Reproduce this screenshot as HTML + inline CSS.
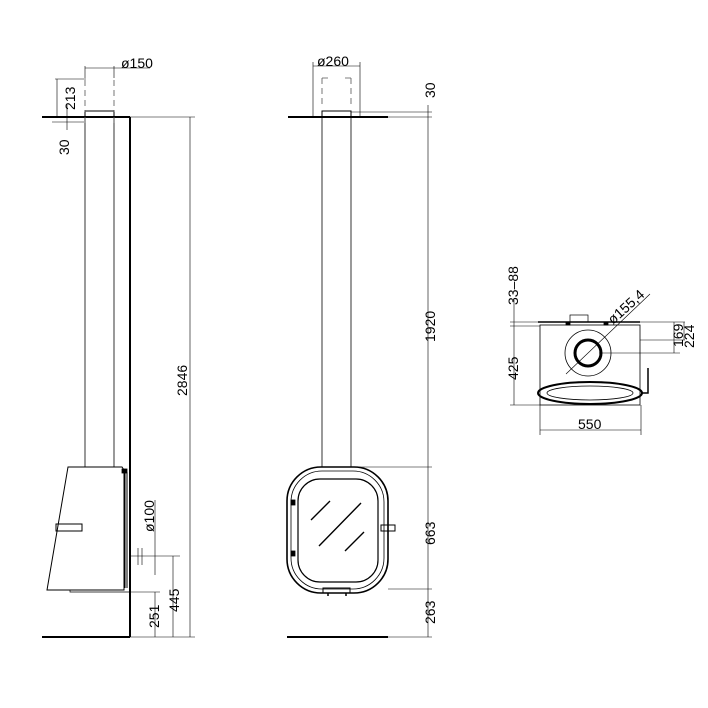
<!DOCTYPE html>
<html><head><meta charset="utf-8"><style>
html,body{margin:0;padding:0;background:#fff;}
svg{display:block;}
text{font-family:"Liberation Sans",sans-serif;font-size:14px;fill:#000;}
</style></head><body>
<svg width="708" height="708" viewBox="0 0 708 708" xmlns="http://www.w3.org/2000/svg">
<g fill="none" stroke="#000" stroke-width="0.8">
<line x1="42" y1="117" x2="130" y2="117" stroke-width="2"/>
<line x1="130" y1="117" x2="195" y2="117" stroke-width="0.6"/>
<rect x="85" y="111" width="29" height="6" stroke-width="1"/>
<line x1="85" y1="117" x2="85" y2="467"/>
<line x1="114" y1="117" x2="114" y2="467"/>
<line x1="130" y1="117" x2="130" y2="637" stroke-width="2"/>
<path d="M85 80 V112 M114 80 V112 M85 117 V125 M114 117 V125" stroke-dasharray="6,4" stroke="#555"/>
<path d="M85 66 V78 M114 66 V78 M85 68 H150" stroke-width="0.6"/>
<path d="M55 79 H86 M57 79 V117 M67 105 V130 M52 122 H84 M190 117 V637" stroke-width="0.6"/>
<path d="M68 467 H122 L124 470 V590 H47 Z" stroke-width="1"/>
<path d="M125 472 V588 M127 472 V588" stroke-width="1"/>
<rect x="122" y="469" width="5" height="4" fill="#000"/>
<rect x="56" y="524" width="26" height="7" stroke-width="1"/>
<path d="M70 590 V592 H130" stroke-width="0.7"/>
<line x1="42" y1="637" x2="130" y2="637" stroke-width="2"/>
<line x1="130" y1="637" x2="195" y2="637" stroke-width="0.6"/>
<path d="M138 548 V565 M142 548 V565 M130 556 H180 M155 500 V575 M173 556 V637 M155 592 V637 M130 592 H160" stroke-width="0.6"/>
<line x1="288" y1="117" x2="388" y2="117" stroke-width="2"/>
<line x1="388" y1="117" x2="432" y2="117" stroke-width="0.6"/>
<line x1="351" y1="112" x2="432" y2="112" stroke-width="0.6"/>
<rect x="322" y="111" width="29" height="6" stroke-width="1"/>
<line x1="322" y1="117" x2="322" y2="467"/>
<line x1="351" y1="117" x2="351" y2="467"/>
<path d="M322 78 V108 M351 78 V108 M322 78 H330 M351 78 H343" stroke-dasharray="6,4" stroke="#555"/>
<path d="M313 62 V117 M360 62 V117 M313 66 H360" stroke-width="0.6"/>
<path d="M428 105 V637 M351 467 H432 M388 589 H432" stroke-width="0.6"/>
<rect x="287" y="467" width="101" height="126" rx="34" ry="34" stroke-width="1.6"/>
<rect x="291" y="471" width="93" height="118" rx="31" ry="31" stroke-width="0.8"/>
<rect x="298" y="479" width="80" height="103" rx="22" ry="22" stroke-width="1.2"/>
<path d="M311 520 L330 501 M319 546 L361 503 M345 551 L364 532" stroke-width="1.4"/>
<rect x="381" y="525" width="14" height="6" stroke-width="1"/>
<rect x="291" y="500" width="4" height="5" fill="#000"/>
<rect x="291" y="551" width="4" height="5" fill="#000"/>
<rect x="323" y="588" width="27" height="5" stroke-width="1"/>
<path d="M328 593 V596 M346 593 V596" stroke-width="1.5"/>
<line x1="287" y1="637" x2="388" y2="637" stroke-width="2"/>
<line x1="388" y1="637" x2="432" y2="637" stroke-width="0.6"/>
<rect x="540" y="325" width="100" height="80" stroke-width="0.8"/>
<line x1="538" y1="322" x2="640" y2="322" stroke-width="1.5"/>
<rect x="570" y="315" width="18" height="7" stroke-width="0.7"/>
<rect x="566" y="322" width="4" height="3" fill="#000"/>
<rect x="604" y="322" width="4" height="3" fill="#000"/>
<circle cx="588" cy="353" r="23" stroke-width="0.8"/>
<circle cx="588" cy="353" r="13" stroke-width="3"/>
<path d="M566 374 L650 294" stroke-width="0.6"/>
<path d="M599 353 H680 M640 322 H685 M640 340 H685" stroke-width="0.6"/>
<ellipse cx="590" cy="393" rx="52" ry="11" stroke-width="2"/>
<ellipse cx="590" cy="393" rx="43" ry="7" stroke-width="0.8"/>
<path d="M642 393 H648 V368" stroke-width="1.5"/>
<path d="M510 322 H540 M510 326 H540 M510 405 H540 M514 300 V405 M540 405 V435 M641 405 V435 M540 430 H641 M674 322 V353 M684 322 V340" stroke-width="0.6"/>
</g>
<text x="121" y="68">ø150</text>
<text transform="translate(75,110) rotate(-90)">213</text>
<text transform="translate(69,155) rotate(-90)">30</text>
<text transform="translate(187,396) rotate(-90)">2846</text>
<text transform="translate(154,532) rotate(-90)">ø100</text>
<text transform="translate(179,612) rotate(-90)">445</text>
<text transform="translate(159,628) rotate(-90)">251</text>
<text x="317" y="66">ø260</text>
<text transform="translate(435,98) rotate(-90)">30</text>
<text transform="translate(435,342) rotate(-90)">1920</text>
<text transform="translate(435,545) rotate(-90)">663</text>
<text transform="translate(435,624) rotate(-90)">263</text>
<text transform="translate(518,305) rotate(-90)">33–88</text>
<text transform="translate(518,380) rotate(-90)">425</text>
<text x="578" y="429">550</text>
<text transform="translate(683,347) rotate(-90)">169</text>
<text transform="translate(694,348) rotate(-90)">224</text>
<text transform="translate(613,325) rotate(-42)">ø155,4</text>
</svg>
</body></html>
